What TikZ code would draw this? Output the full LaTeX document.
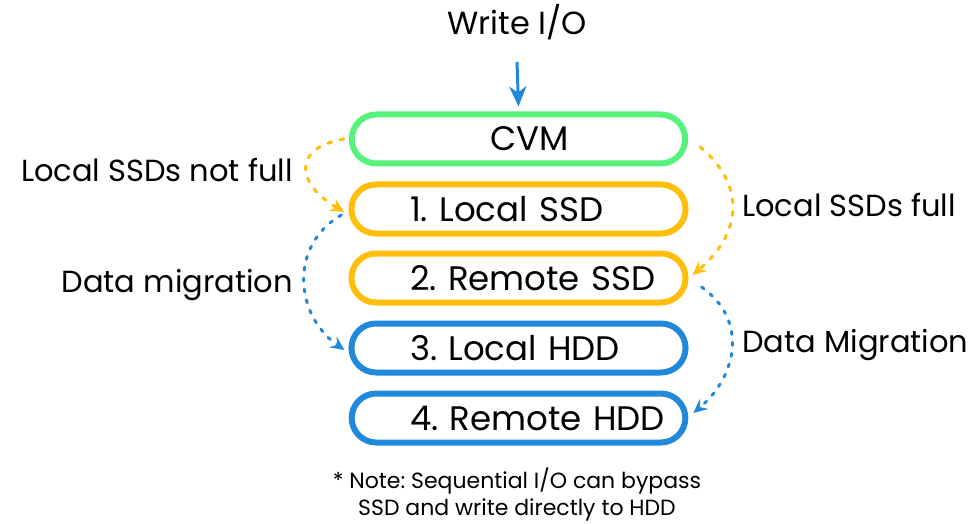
\documentclass[tikz,border=0pt]{standalone}
\usepackage{fontspec}
\setmainfont{Poppins}
\frenchspacing
\usetikzlibrary{arrows.meta,shadows,shapes.misc}
\definecolor{cvmgreen}{HTML}{56F27C}
\definecolor{ssdorange}{HTML}{FFBE0B}
\definecolor{hddblue}{HTML}{2189DB}
\begin{document}
\begin{tikzpicture}[x=1pt,y=1pt,
  tier/.style={draw,line width=6pt,fill=white,rounded rectangle,
    minimum height=49pt,text width=262pt,inner xsep=32.5pt,
    align=left,font=\fontsize{34}{38}\selectfont,
    execute at begin node={\hspace*{22.5pt}},
    drop shadow={opacity=0.12,shadow xshift=1.5pt,shadow yshift=-2pt}},
  side/.style={font=\fontsize{30.5}{34}\selectfont,inner sep=0pt},
  flow/.style={line width=3pt,line cap=round,dash pattern=on 4pt off 8.5pt,
    -{Stealth[length=14pt,width=13pt,inset=5pt]}}]
\useasboundingbox (0,0) rectangle (969,523);
\node[font=\fontsize{32}{36}\selectfont] (WIO) at (517,501) {Write I/O};
\node[tier,draw=cvmgreen,align=center,execute at begin node={}] (CVM) at (518.5,384) {CVM};
\node[tier,draw=ssdorange] (LSSD) at (518.5,314) {\mbox{1. Local SSD}};
\node[tier,draw=ssdorange] (RSSD) at (518.5,245) {\mbox{2. Remote SSD}};
\node[tier,draw=hddblue] (LHDD) at (518.5,175) {\mbox{3. Local HDD}};
\node[tier,draw=hddblue] (RHDD) at (518.5,105) {\mbox{4. Remote HDD}};
\node[side,anchor=east] (NF) at (293,353) {Local SSDs not full};
\node[side,anchor=east] (DM1) at (293,238) {Data migration};
\node[side,anchor=west] (F) at (742,318) {Local SSDs full};
\node[side,anchor=west] (DM2) at (742,178) {Data Migration};
\node[font=\fontsize{22}{27}\selectfont,align=center] (NOTE) at (517,29)
  {* Note: Sequential I/O can bypass\\SSD and write directly to HDD};
\coordinate (IOin) at (517,461);
\draw[hddblue,line width=3pt,-{Stealth[length=20pt,width=17pt,inset=6pt]}] (IOin) -- ([yshift=5pt]CVM.north);
\draw[flow,ssdorange] ([xshift=-5pt]CVM.west) to[out=190,in=150,looseness=1.9] ([shift={(-4,-3)}]LSSD.west);
\draw[flow,ssdorange] ([shift={(12,-8)}]CVM.east) to[out=-40,in=40,looseness=1.24] ([shift={(4,3)}]RSSD.east);
\draw[flow,hddblue,dash pattern=on 3pt off 8pt] ([shift={(-7,-6)}]LSSD.west) to[out=210,in=145,looseness=1.15] ([shift={(-4,-2)}]LHDD.west);
\draw[flow,hddblue,dash pattern=on 3pt off 8pt] ([shift={(13,-9)}]RSSD.east) to[out=-35,in=40,looseness=1.16] ([shift={(5,5)}]RHDD.east);
\end{tikzpicture}
\end{document}
